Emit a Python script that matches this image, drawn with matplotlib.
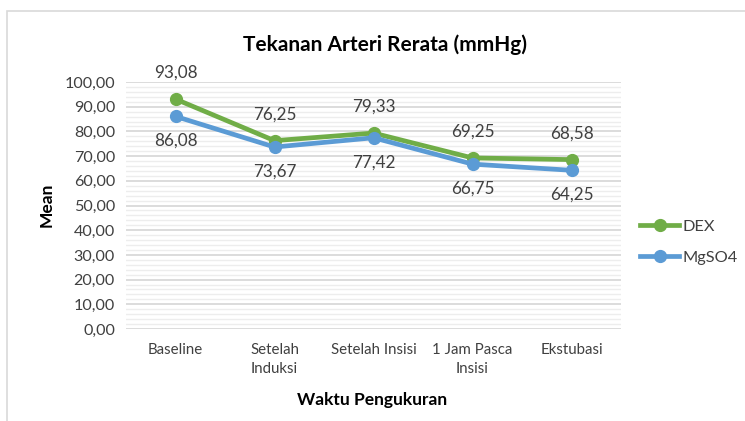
import matplotlib
matplotlib.use("Agg")
import matplotlib.pyplot as plt
from matplotlib.patches import Rectangle
from matplotlib.ticker import MultipleLocator, FuncFormatter

categories = ["Baseline", "Setelah\nInduksi", "Setelah Insisi", "1 Jam Pasca\nInsisi", "Ekstubasi"]
dex = [93.08, 76.25, 79.33, 69.25, 68.58]
mgso4 = [86.08, 73.67, 77.42, 66.75, 64.25]
series_names = ["DEX", "MgSO4"]
title = "Tekanan Arteri Rerata (mmHg)"
xlabel = "Waktu Pengukuran"
ylabel = "Mean"

plt.rcParams['font.family'] = ['Lato', 'DejaVu Sans']
W, H = 745, 421
fig = plt.figure(figsize=(W / 100, H / 100), dpi=100)

# chart border (light gray, cropped at right/bottom)
fig.patches.append(Rectangle((7 / W, -0.1), 1.2, 1 - 11 / H + 0.1, transform=fig.transFigure,
                             fill=False, edgecolor="#D9D9D9", linewidth=1.2))

left, right = 126, 621
top, bottom = 82, 329
ax = fig.add_axes([left / W, 1 - bottom / H, (right - left) / W, (bottom - top) / H])

green = "#70AD47"
blue = "#5B9BD5"
x = list(range(len(categories)))
ax.plot(x, dex, color=green, lw=3.4, marker="o", ms=8.5, label=series_names[0], zorder=3)
ax.plot(x, mgso4, color=blue, lw=3.4, marker="o", ms=8.5, label=series_names[1], zorder=3)

fmt = lambda v: f"{v:.2f}".replace(".", ",")
for xi, v in zip(x, dex):
    ax.annotate(fmt(v), (xi, v), xytext=(0, 13), textcoords="offset points",
                ha="center", va="bottom", fontsize=12.3, color="#404040")
for xi, v in zip(x, mgso4):
    ax.annotate(fmt(v), (xi, v), xytext=(0, -12), textcoords="offset points",
                ha="center", va="top", fontsize=12.3, color="#404040")

ax.set_xlim(-0.5, len(categories) - 0.5)
ax.set_ylim(0, 100)
ax.yaxis.set_major_locator(MultipleLocator(10))
ax.yaxis.set_minor_locator(MultipleLocator(2))
ax.yaxis.set_major_formatter(FuncFormatter(lambda v, p: fmt(v)))
ax.set_xticks(x)
ax.set_xticklabels(categories, fontsize=10.8, color="#404040", linespacing=1.45)
ax.tick_params(axis="y", labelsize=11.6, labelcolor="#404040", length=0, pad=8, which="both")
ax.tick_params(axis="x", length=0, pad=10)
ax.grid(axis="y", which="major", color="#D9D9D9", lw=1.3)
ax.grid(axis="y", which="minor", color="#EDEDED", lw=1.0)
ax.set_axisbelow(True)
for s in ax.spines.values():
    s.set_visible(False)

fig.text(385 / W, 1 - 45 / H, title, ha="center", va="center", fontsize=15, fontweight="bold", color="#000000")
fig.text(372 / W, 1 - 400 / H, xlabel, ha="center", va="center", fontsize=12.5, fontweight="bold", color="#000000")
fig.text(47 / W, 1 - 205 / H, ylabel, ha="center", va="center", rotation=90, fontsize=12.5, fontweight="bold", color="#000000")

leg = fig.legend(loc="center left", bbox_to_anchor=(640 / W, 1 - 242 / H), frameon=False,
                 fontsize=11.8, handlelength=2.4, handletextpad=0.2, labelspacing=1.0,
                 borderaxespad=0, borderpad=0)
for t in leg.get_texts():
    t.set_color("#404040")

fig.savefig("out.png", dpi=100)
